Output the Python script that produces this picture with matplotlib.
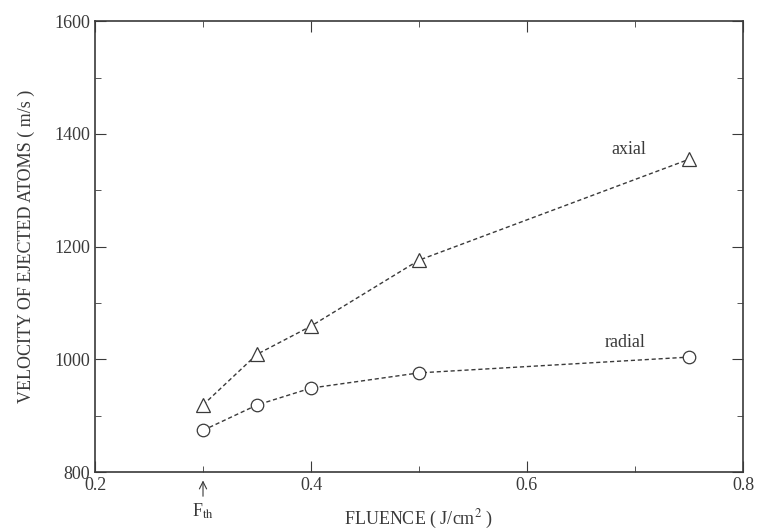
import matplotlib.pyplot as plt
from matplotlib.ticker import MultipleLocator

fluence = [0.30, 0.35, 0.40, 0.50, 0.75]
axial = [919, 1009, 1059, 1176, 1355]
radial = [874, 919, 949, 976, 1004]

ink = "#3a3a3a"


def main():
    plt.rcParams["font.family"] = ["Liberation Serif", "DejaVu Serif"]
    plt.rcParams["mathtext.fontset"] = "stix"
    fig = plt.figure(figsize=(7.57, 5.31), dpi=100)
    ax = fig.add_axes([0.1255, 0.111, 0.856, 0.849])

    ax.plot(fluence, axial, color=ink, lw=1, ls=(0, (3, 2)),
            marker="^", ms=10, mfc="white", mec=ink, mew=0.9)
    ax.plot(fluence, radial, color=ink, lw=1, ls=(0, (3, 2)),
            marker="o", ms=9, mfc="white", mec=ink, mew=0.9)

    ax.text(0.71, 1357, "axial", ha="right", va="bottom", fontsize=13, color=ink)
    ax.text(0.71, 1014, "radial", ha="right", va="bottom", fontsize=13, color=ink)

    ax.set_xlim(0.2, 0.8)
    ax.set_ylim(800, 1600)
    ax.xaxis.set_major_locator(MultipleLocator(0.2))
    ax.xaxis.set_minor_locator(MultipleLocator(0.1))
    ax.yaxis.set_major_locator(MultipleLocator(200))
    ax.yaxis.set_minor_locator(MultipleLocator(100))
    ax.tick_params(which="both", direction="in", top=True, right=True,
                   colors=ink, labelsize=13)
    ax.tick_params(which="major", length=8)
    ax.tick_params(which="minor", length=4)
    ax.xaxis.set_major_formatter(lambda v, p: f"{v:.1f}")
    for s in ax.spines.values():
        s.set_color(ink)
        s.set_linewidth(1.2)

    ax.annotate("F$_{\\rm th}$", xy=(0.3, 790), xytext=(0.3, 730),
                ha="center", va="center", fontsize=13, color=ink,
                arrowprops=dict(arrowstyle="->", color=ink, lw=0.8),
                annotation_clip=False)

    ax.set_xlabel("FLUENCE ( J/cm$^{\\rm 2}$ )", fontsize=13, color=ink, labelpad=10)
    ax.set_ylabel("VELOCITY OF EJECTED ATOMS ( m/s )", fontsize=13, color=ink, labelpad=14)

    fig.savefig("out.png", dpi=100)


if __name__ == "__main__":
    main()
